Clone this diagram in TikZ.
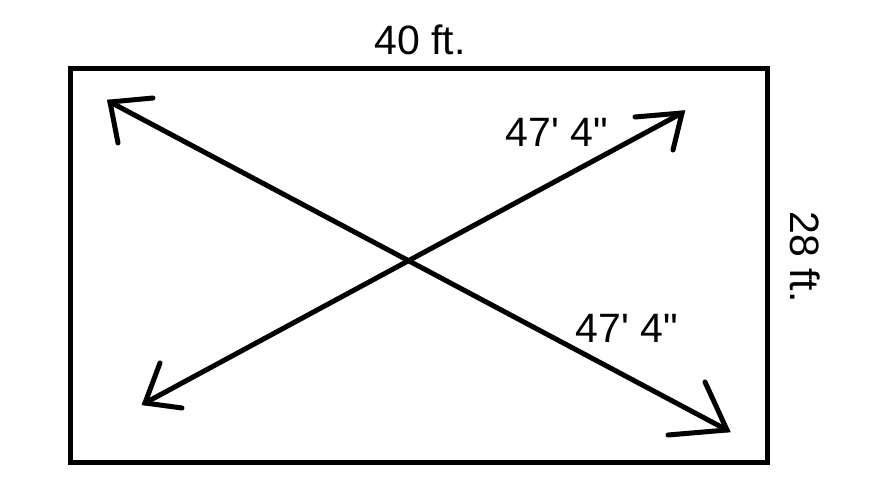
\documentclass[tikz,border=0pt]{standalone}
\usepackage{fontspec}
\newfontfamily\lblfont{Liberation Sans}
\begin{document}
\begin{tikzpicture}[x=1pt,y=-1pt,
  edge/.style={line width=5pt,line cap=round,line join=round},
  barb/.style={line width=5pt,line cap=round,line join=miter},
  lbl/.style={font=\lblfont\fontsize{41}{41}\selectfont,inner sep=0pt}]
\useasboundingbox[fill=white] (0,0) rectangle (877,500);
% rectangle
\draw[line width=5pt] (70,69) rectangle (767,462);
% diagonal 1
\coordinate (a1) at (110,102);
\coordinate (a2) at (727,430);
\draw[edge] (a1) -- (a2);
\draw[barb] (153,98) -- (a1) -- (118,143);
\draw[barb] (705,382) -- (a2) -- (668,435);
% diagonal 2
\coordinate (b1) at (145,403);
\coordinate (b2) at (682,113);
\draw[edge] (b1) -- (b2);
\draw[barb] (160,363) -- (b1) -- (182,408);
\draw[barb] (635,117) -- (b2) -- (673,150);
% labels
\node[lbl] (top) at (420,40) {40 ft.};
\node[lbl] (d1) at (557,132) {47' 4"};
\node[lbl] (d2) at (627,328) {47' 4"};
\node[lbl,rotate=-90] (side) at (805,257) {28 ft.};
\end{tikzpicture}
\end{document}
